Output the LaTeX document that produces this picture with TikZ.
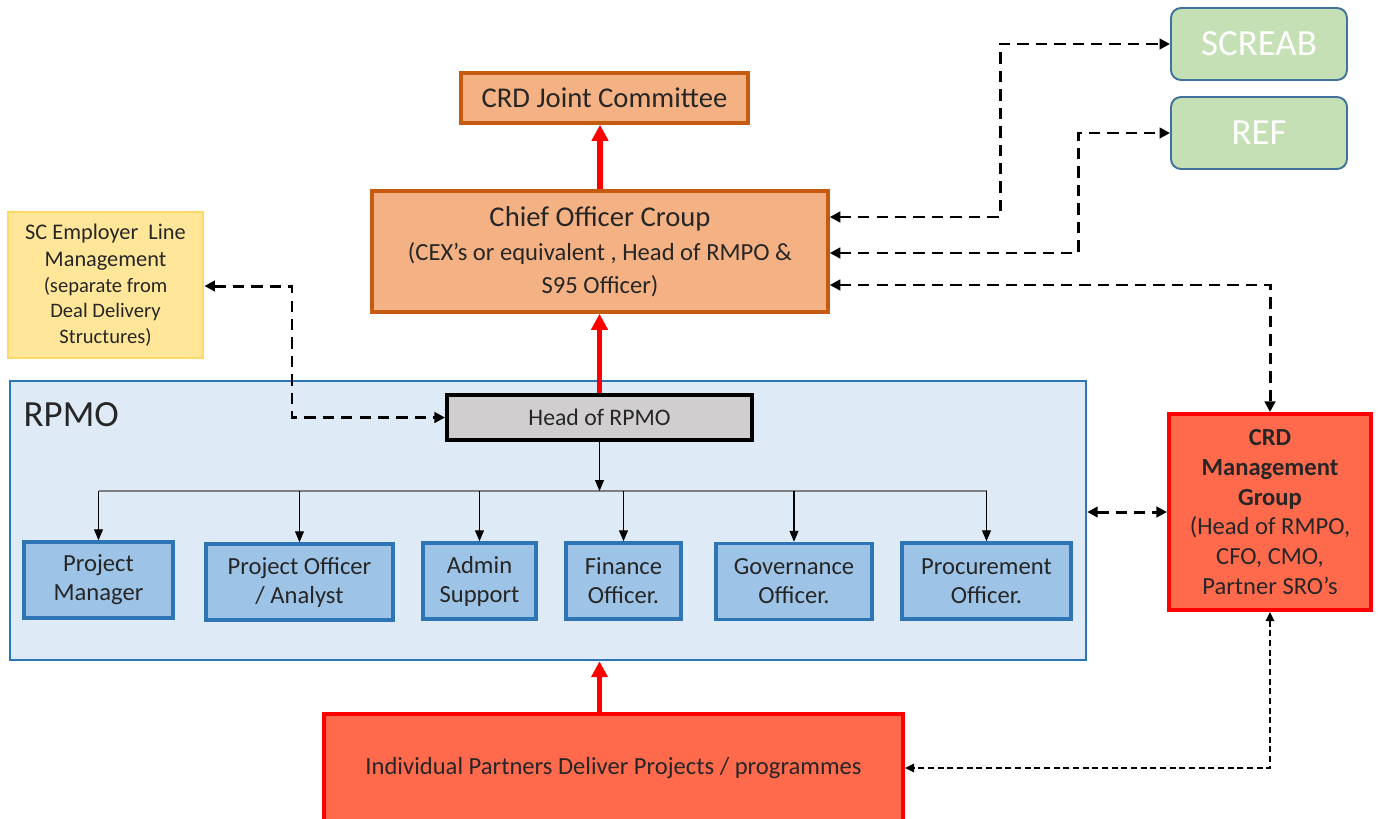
\documentclass[tikz,border=0pt]{standalone}
\usepackage{fontspec}
\setmainfont{Carlito}
\usetikzlibrary{arrows.meta,positioning,calc}
\definecolor{cogfill}{HTML}{F4B183}
\definecolor{cogline}{HTML}{C55A11}
\definecolor{greenfill}{HTML}{C5E0B4}
\definecolor{greenline}{HTML}{41719C}
\definecolor{yellowfill}{HTML}{FFE699}
\definecolor{yellowline}{HTML}{FFD966}
\definecolor{rpmofill}{HTML}{DEEBF7}
\definecolor{rpmoline}{HTML}{2E75B6}
\definecolor{rolefill}{HTML}{9DC3E6}
\definecolor{headfill}{HTML}{D0CECE}
\definecolor{crdfill}{HTML}{FF6A4D}
\definecolor{crdline}{HTML}{FF0000}
\definecolor{darktext}{HTML}{262626}
\definecolor{busgrey}{HTML}{7F7F7F}
\tikzset{
  orangebox/.style={draw=cogline, fill=cogfill, line width=2pt, text=darktext, align=center},
  greenbox/.style={draw=greenline, fill=greenfill, line width=1.1pt, rounded corners=0.2cm, text=white, minimum width=3.52cm, minimum height=1.44cm, font=\fontsize{21}{25}\selectfont},
  rolebox/.style={draw=rpmoline, fill=rolefill, line width=2pt, minimum height=1.52cm, align=center, text=darktext, font=\fontsize{14}{16.5}\selectfont},
  redbox/.style={draw=crdline, fill=crdfill, line width=2.3pt, align=center, text=darktext},
  redarrow/.style={draw=crdline, line width=3.3pt, -{Triangle[length=3.2mm,width=3.2mm]}},
  dashlink/.style={line width=1.7pt, dash pattern=on 6.5pt off 4pt, {Triangle[length=2.1mm,width=2.1mm]}-{Triangle[length=2.1mm,width=2.1mm]}},
  thinlink/.style={line width=0.9pt, dash pattern=on 3.5pt off 2pt, {Triangle[length=1.8mm,width=1.7mm]}-{Triangle[length=1.8mm,width=1.7mm]}},
  droparrow/.style={line width=0.6pt, -{Triangle[length=2.2mm,width=1.8mm]}}
}

\begin{document}
\begin{tikzpicture}
\useasboundingbox (0,0) rectangle (27.56,-16.36);
\node[draw=rpmoline, fill=rpmofill, line width=1.4pt, minimum width=21.52cm, minimum height=5.58cm] (rpmo) at (10.96,-10.41) {};
\node[anchor=west, text=darktext, font=\fontsize{21}{25}\selectfont] (rpmolabel) at (0.35,-8.3) {RPMO};

\node[orangebox, minimum width=5.74cm, minimum height=1cm, font=\fontsize{16.3}{20}\selectfont] (joint) at (12.09,-1.96) {CRD Joint Committee};
\node[orangebox, minimum width=9.12cm, minimum height=2.42cm, font=\fontsize{14}{18.5}\selectfont] (cog) at (12.0,-5.03) {{\fontsize{16.3}{20}\selectfont Chief Officer Croup}\\[1pt] (CEX’s or equivalent , Head of RMPO \&\\ S95 Officer)};
\node[greenbox] (screab) at (25.18,-0.88) {SCREAB};
\node[greenbox] (ref) at (25.18,-2.66) {REF};
\node[draw=yellowline, fill=yellowfill, line width=1.6pt, minimum width=3.9cm, minimum height=2.92cm, align=center, text=darktext, font=\fontsize{11.7}{14.5}\selectfont] (scel) at (2.11,-5.70) {{\fontsize{12.7}{15}\selectfont SC Employer\ \ Line}\\[1pt] {\fontsize{12.7}{15}\selectfont Management}\\ (separate from\\ Deal Delivery\\ Structures)};

\node[draw=black, fill=headfill, line width=2.3pt, minimum width=6.1cm, minimum height=0.9cm, text=darktext, font=\fontsize{13.5}{16}\selectfont] (head) at (11.99,-8.35) {Head of RPMO};
\node[rolebox, minimum width=2.98cm] (pm) at (1.97,-11.6) {Project\\ Manager};
\node[rolebox, minimum width=3.74cm] (poa) at (5.99,-11.64) {Project Officer\\ / Analyst};
\node[rolebox, minimum width=2.26cm] (adm) at (9.59,-11.62) {Admin\\ Support};
\node[rolebox, minimum width=2.3cm] (fin) at (12.47,-11.62) {Finance\\ Officer.};
\node[rolebox, minimum width=3.12cm] (gov) at (15.88,-11.63) {Governance\\ Officer.};
\node[rolebox, minimum width=3.38cm] (proc) at (19.73,-11.62) {Procurement\\ Officer.};

\node[redbox, minimum width=4.04cm, minimum height=3.92cm, font=\fontsize{14}{17}\selectfont] (crdm) at (25.40,-10.24) {\textbf{CRD}\\ \textbf{Management}\\ \textbf{Group}\\ (Head of RMPO,\\ CFO, CMO,\\ Partner SRO’s};
\node[redbox, minimum width=11.58cm, minimum height=2.16cm, font=\fontsize{14}{17}\selectfont] (ipd) at (12.27,-15.36) {Individual Partners Deliver Projects / programmes};

\coordinate (bus) at (0,-9.82);
\draw[busgrey, line width=1.2pt] (pm.north |- bus) -- (proc.north |- bus);
\draw[droparrow] (head.south) -- (head.south |- bus);
\foreach \role in {pm,poa,adm,fin,gov,proc}
  \draw[droparrow] (\role.north |- bus) -- (\role.north);

\draw[redarrow] (cog.north) -- (cog.north |- joint.south);
\draw[redarrow] (head.north) -- (head.north |- cog.south);
\draw[redarrow] (ipd.north -| head.north) -- (head.north |- rpmo.south);

\coordinate (screabbend) at (20.0,-4.34);
\coordinate (refbend) at (21.56,-5.06);
\coordinate (crdmbend) at (0,-5.70);
\coordinate (scelbend) at (5.84,-5.72);
\draw[dashlink] (cog.east |- screabbend) -- (screabbend) |- (screab.west);
\draw[dashlink] (cog.east |- refbend) -- (refbend) |- (ref.west);
\draw[dashlink] (cog.east |- crdmbend) -| (crdm.north);
\draw[dashlink] (scel.east |- scelbend) -- (scelbend) |- (head.west);
\draw[dashlink] (rpmo.east |- crdm.west) -- (crdm.west);
\draw[thinlink] (crdm.south) |- (ipd.east);
\end{tikzpicture}
\end{document}
